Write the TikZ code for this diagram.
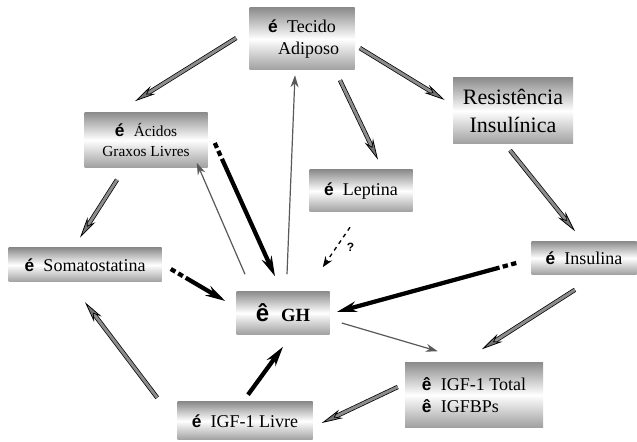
\documentclass[tikz,border=0pt]{standalone}
\usepackage{fontspec}
\setmainfont{Liberation Serif}
\newfontfamily\arr{Liberation Sans}
\usetikzlibrary{arrows.meta,calc}
\begin{document}
\begin{tikzpicture}[x=0.75pt,y=-0.75pt,
    caixa/.style={top color=gray!90,bottom color=gray!75,middle color=white,
        inner sep=0pt,align=center,font=\fontsize{13.5}{17}\selectfont},
    tam/.style 2 args={minimum width=#1*0.75pt,minimum height=#2*0.75pt},
    cinza/.style={draw=black,line width=0.55pt,double=black!45,double distance=2.2pt,
        -{Stealth[length=16pt,width=7pt,fill=black!55]}},
    preta/.style={line width=3.2pt,dash pattern=on 4pt off 2.5pt on 4pt off 2.5pt on 400pt,
        -{Stealth[length=15pt,width=8pt]}},
    fina/.style={draw=gray!70!black,line width=0.9pt,-{Stealth[length=9pt,width=6pt]}}]
    \def\sobe{{\arr\bfseries\fontsize{13}{15}\selectfont é}\hspace{7pt}}
    \def\desce{{\arr\bfseries\fontsize{13}{15}\selectfont ê}\hspace{7pt}}
    \fill[white] (0,0) rectangle (637,442);
    \useasboundingbox (0,0) rectangle (637,442);
    %===========================================
    \node[caixa,tam={105}{62}] (tec) at (302,39) {\sobe Tecido\\ \hspace{10pt}Adiposo};
    \node[caixa,tam={120}{66},font=\fontsize{16.5}{21}\selectfont] (res) at (513,111) {Resistência\\Insulínica};
    \node[caixa,tam={123}{55},font=\fontsize{11.5}{15}\selectfont] (aci) at (146,140) {\sobe Ácidos\\Graxos Livres};
    \node[caixa,tam={103}{42}] (lep) at (361,191) {\sobe Leptina};
    \node[caixa,tam={153}{34}] (som) at (85,265) {\sobe Somatostatina};
    \node[caixa,tam={105}{33}] (ins) at (584,258) {\sobe Insulina};
    \node[caixa,tam={93}{43},font=\fontsize{14}{17}\selectfont\bfseries] (gh) at (283,313)
        {{\arr\fontsize{18}{19}\selectfont ê}\hspace{9pt}GH};
    \node[caixa,tam={138}{65},align=left] (igft) at (474,395) {\desce IGF-1 Total\\\desce IGFBPs};
    \node[caixa,tam={135}{38}] (igfl) at (245,421) {\sobe IGF-1 Livre};
    %===========================================
    \draw[cinza] ($(tec.west)+(-13,-1)$) -- ($(aci.north)+(-11,-11)$);
    \draw[cinza] ($(tec.east)+(5,9)$) -- ($(res.west)+(-8,-11)$);
    \draw[cinza] ($(tec.south)+(38,10)$) -- ($(lep.north)+(17,-10)$);
    \draw[cinza] ($(res.south)+(-3,6)$) -- ($(ins.north)+(-9,-10)$);
    \draw[cinza] ($(ins.south)+(-9,15)$) -- ($(igft.north)+(8,-13)$);
    \draw[cinza] ($(igft.west)+(-7,-8)$) -- ($(igfl.east)+(9,2)$);
    \draw[cinza] ($(igfl.north west)+(-20,-4)$) -- ($(som.south)+(0,20)$);
    \draw[cinza] ($(aci.south)+(-29,12)$) -- ($(som.north)+(-5,-10)$);
    %
    \draw[preta] ($(som.east)+(9,4)$) -- ($(gh.west)+(-11,-12)$);
    \draw[preta] ($(aci.east)+(7,3)$) -- ($(gh.north)+(-8,-15)$);
    \draw[preta] ($(ins.west)+(-15,5)$) -- ($(gh.east)+(7,-1)$);
    \draw[preta,dash pattern=on 400pt] ($(igfl.north)+(3,-7)$) -- ($(gh.south)+(0,12)$);
    %
    \draw[fina] ($(gh.north)+(-38,-17)$) -- ($(aci.south east)+(-11,-5)$);
    \draw[fina] ($(gh.north)+(4,-17)$) -- ($(tec.south)+(-7,5)$);
    \draw[fina] ($(gh.east)+(12,10)$) -- ($(igft.north west)+(33,-11)$);
    \draw[dashed,line width=1pt,-{Stealth[length=8pt,width=6pt]}] ($(lep.south)+(-11,15)$)
        -- node[pos=0.5,right=4pt,font=\arr\bfseries\small] {?} ($(gh.north east)+(-7,-24)$);
\end{tikzpicture}
\end{document}
